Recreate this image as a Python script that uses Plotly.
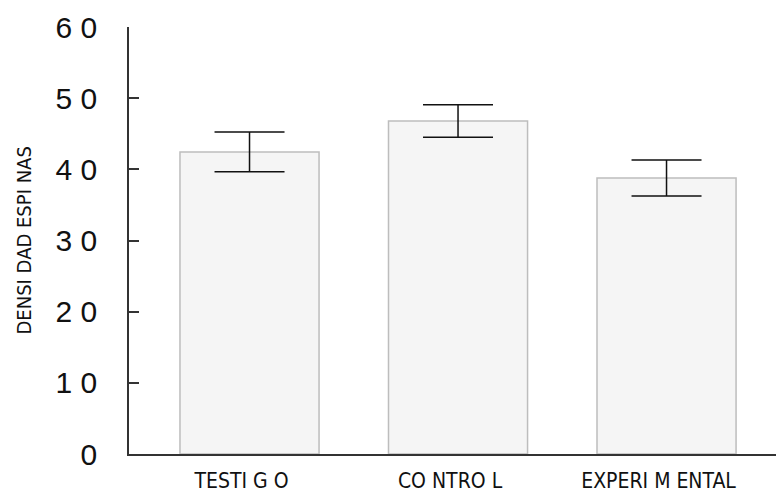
import plotly.graph_objects as go

categories = ["TESTI G O", "CO NTRO L", "EXPERI M ENTAL"]
means = [42.45, 46.8, 38.77]
errors = [2.8, 2.28, 2.53]
ytick_vals = [0, 10, 20, 30, 40, 50, 60]
ytick_text = ["0", "1 0", "2 0", "3 0", "4 0", "5 0", "6 0"]
y_title = "DENSI DAD ESPI NAS"

narrow = "Liberation Sans Narrow, Arial Narrow, DejaVu Sans Condensed, Liberation Sans, sans-serif"

fig = go.Figure()
fig.add_trace(go.Bar(
    x=[0, 1, 2], y=means,
    width=0.667,
    marker=dict(color="#f5f5f5", line=dict(color="#bdbdbd", width=1.5)),
    error_y=dict(type="data", array=errors, visible=True,
                 color="#111111", thickness=1.5, width=35),
    hoverinfo="skip",
))

fig.update_layout(
    width=776, height=493,
    margin=dict(l=129, r=0, t=27, b=33),
    paper_bgcolor="white", plot_bgcolor="white",
    showlegend=False,
    font=dict(family="Liberation Sans, Arial, sans-serif", color="#111111"),
    xaxis=dict(
        range=[-0.578, 2.525],
        tickvals=[0, 1, 2], ticktext=categories,
        showline=True, linecolor="#333333", linewidth=1.5,
        ticks="", showgrid=False, zeroline=False,
        tickfont=dict(size=21, family=narrow), ticklabelstandoff=7,
        ticklabelshift=-8,
    ),
    yaxis=dict(
        range=[0, 60],
        tickvals=ytick_vals, ticktext=ytick_text,
        showline=True, linecolor="#333333", linewidth=1.5,
        ticks="inside", ticklen=10, tickwidth=1.5, tickcolor="#333333",
        showgrid=False, zeroline=False,
        tickfont=dict(size=30), ticklabelstandoff=24,
    ),
    annotations=[dict(
        text=y_title, textangle=-90,
        xref="paper", yref="paper", x=0, y=0.5,
        xanchor="center", yanchor="middle", xshift=-106,
        showarrow=False, font=dict(size=20, family=narrow),
    )],
)

fig.write_html("out.html", config={"displayModeBar": False},
               post_script="document.body.style.margin='0';document.body.style.overflow='hidden';")
